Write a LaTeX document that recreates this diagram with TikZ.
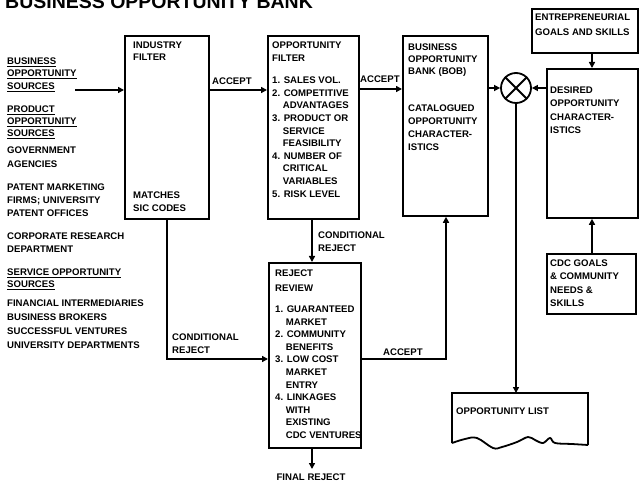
\documentclass[tikz,border=0pt]{standalone}
\usepackage{fontspec}
\setmainfont{Liberation Sans}
\usetikzlibrary{arrows.meta}
\begin{document}
\begin{tikzpicture}[x=1pt,y=-1pt,
  box/.style={draw,line width=1.8pt,inner sep=0pt,anchor=north west},
  lbl/.style={anchor=north west,inner sep=0pt,align=left,font=\fontsize{9.6}{#1}\selectfont\bfseries},
  lbl/.default=12.6,
  conn/.style={line width=2.4pt},
  arr/.style={conn,-{Triangle[length=6pt,width=6pt]}},
  ttl/.style={anchor=base west,inner sep=0pt,font=\fontsize{19.5}{22}\selectfont\bfseries}]
\useasboundingbox (0,0) rectangle (640,486);
\clip (0,0) rectangle (640,486);
\fill[white] (0,0) rectangle (640,486);
% title
\node[ttl] (title) at (5,9) {BUSINESS OPPORTUNITY BANK};
% boxes
\node[box,minimum width=84pt,minimum height=183pt] (ind) at (124,35) {};
\node[box,minimum width=91pt,minimum height=183pt] (opp) at (267,35) {};
\node[box,minimum width=85pt,minimum height=180pt] (bob) at (402,35) {};
\node[box,minimum width=106pt,minimum height=44pt] (ent) at (531,8) {};
\node[box,minimum width=91pt,minimum height=149pt] (des) at (546,68) {};
\node[box,minimum width=89pt,minimum height=60pt] (cdc) at (546,253) {};
\node[box,minimum width=92pt,minimum height=185pt] (rej) at (268,262) {};
\node[draw,circle,line width=1.8pt,minimum size=30pt,inner sep=0pt] (cmp) at (516,88) {};
\draw[line width=1.8pt] (cmp.north east) -- (cmp.south west) (cmp.north west) -- (cmp.south east);
% opportunity list
\draw[line width=1.8pt] (588,445) -- (588,393) -- (452,393) -- (452,443)
  plot[smooth,tension=0.6] coordinates {(452,443) (465,439) (477,438) (493,448) (502,447) (517,442) (528,437) (535,440) (543,443) (550,438) (555,443) (572,444) (588,445)};
\coordinate (olt) at (516,393);
% texts in boxes
\node[lbl] (tind) at (133,41.5) {INDUSTRY\\FILTER};
\node[lbl] (tsic) at (133,191.5) {MATCHES\\SIC CODES};
\node[lbl] (topp) at (272,41.5) {OPPORTUNITY\\FILTER\\[10pt]
1. SALES VOL.\\2. COMPETITIVE\\\hphantom{2.\ }ADVANTAGES\\3. PRODUCT OR\\\hphantom{3.\ }SERVICE\\\hphantom{3.\ }FEASIBILITY\\4. NUMBER OF\\\hphantom{4.\ }CRITICAL\\\hphantom{4.\ }VARIABLES\\5. RISK LEVEL};
\node[lbl=12] (tbob1) at (408,43.5) {BUSINESS\\OPPORTUNITY\\BANK (BOB)};
\node[lbl=13] (tbob2) at (408,104.5) {CATALOGUED\\OPPORTUNITY\\CHARACTER-\\ISTICS};
\node[lbl=13.3] (tdes) at (550,86.5) {DESIRED\\OPPORTUNITY\\CHARACTER-\\ISTICS};
\node[lbl=15] (tent) at (535,13.5) {ENTREPRENEURIAL\\GOALS AND SKILLS};
\node[lbl=13.3] (tcdc) at (550,259.5) {CDC GOALS\\\& COMMUNITY\\NEEDS \&\\SKILLS};
\node[lbl=15] (trej1) at (275,269.5) {REJECT\\REVIEW};
\node[lbl] (trej2) at (275,305.5) {1. GUARANTEED\\\hphantom{1.\ }MARKET\\2. COMMUNITY\\\hphantom{2.\ }BENEFITS\\3. LOW COST\\\hphantom{3.\ }MARKET\\\hphantom{3.\ }ENTRY\\4. LINKAGES\\\hphantom{4.\ }WITH\\\hphantom{4.\ }EXISTING\\\hphantom{4.\ }CDC VENTURES};
\node[lbl] (tlist) at (456,407.5) {OPPORTUNITY LIST};
% left source texts
\node[lbl=12.5] (src1) at (7,57.5) {\underline{BUSINESS}\\\underline{OPPORTUNITY}\\\underline{SOURCES}};
\node[lbl=12] (src2) at (7,105.5) {\underline{PRODUCT}\\\underline{OPPORTUNITY}\\\underline{SOURCES}};
\node[lbl=14] (gov) at (7,146.5) {GOVERNMENT\\AGENCIES};
\node[lbl=13] (pat) at (7,183.5) {PATENT MARKETING\\FIRMS; UNIVERSITY\\PATENT OFFICES};
\node[lbl=13] (corp) at (7,232.5) {CORPORATE RESEARCH\\DEPARTMENT};
\node[lbl=12] (serv) at (7,268.5) {\underline{SERVICE OPPORTUNITY}\\\underline{SOURCES}};
\node[lbl=14] (fin) at (7,299.5) {FINANCIAL INTERMEDIARIES\\BUSINESS BROKERS\\SUCCESSFUL VENTURES\\UNIVERSITY DEPARTMENTS};
% connector labels
\node[lbl] (acc1) at (212,77.5) {ACCEPT};
\node[lbl] (acc2) at (360,75.5) {ACCEPT};
\node[lbl] (acc3) at (383,348.5) {ACCEPT};
\node[lbl] (cr1) at (318,231.5) {CONDITIONAL\\REJECT};
\node[lbl] (cr2) at (172,333.5) {CONDITIONAL\\REJECT};
\node[anchor=center,inner sep=0pt,font=\fontsize{9.6}{12}\selectfont\bfseries] (finrej) at (311,477) {FINAL REJECT};
% helper coordinates
\coordinate (srcend) at (75,90);
\coordinate (yA) at (0,90);
\coordinate (yB) at (0,89);
\coordinate (yR) at (0,359);
\coordinate (xB) at (167,0);
\coordinate (xC) at (312,0);
\coordinate (xD) at (446,0);
\coordinate (xE) at (592,0);
\coordinate (finend) at (312,469);
% connectors
\draw[arr] (srcend) -- (ind.west |- srcend);
\draw[arr] (ind.east |- yA) -- (opp.west |- yA);
\draw[arr] (opp.east |- yB) -- (bob.west |- yB);
\draw[arr] (bob.east |- cmp) -- (cmp.west);
\draw[arr] (des.west |- cmp) -- (cmp.east);
\draw[arr] (ent.south -| xE) -- (des.north -| xE);
\draw[arr] (cdc.north -| xE) -- (des.south -| xE);
\draw[arr] (opp.south -| xC) -- (rej.north -| xC);
\draw[arr] (rej.south -| xC) -- (finend);
\draw[arr] (ind.south -| xB) |- (rej.west |- yR);
\draw[arr] (rej.east |- yR) -| (bob.south -| xD);
\draw[arr] (cmp.south) -- (olt);
\end{tikzpicture}
\end{document}
